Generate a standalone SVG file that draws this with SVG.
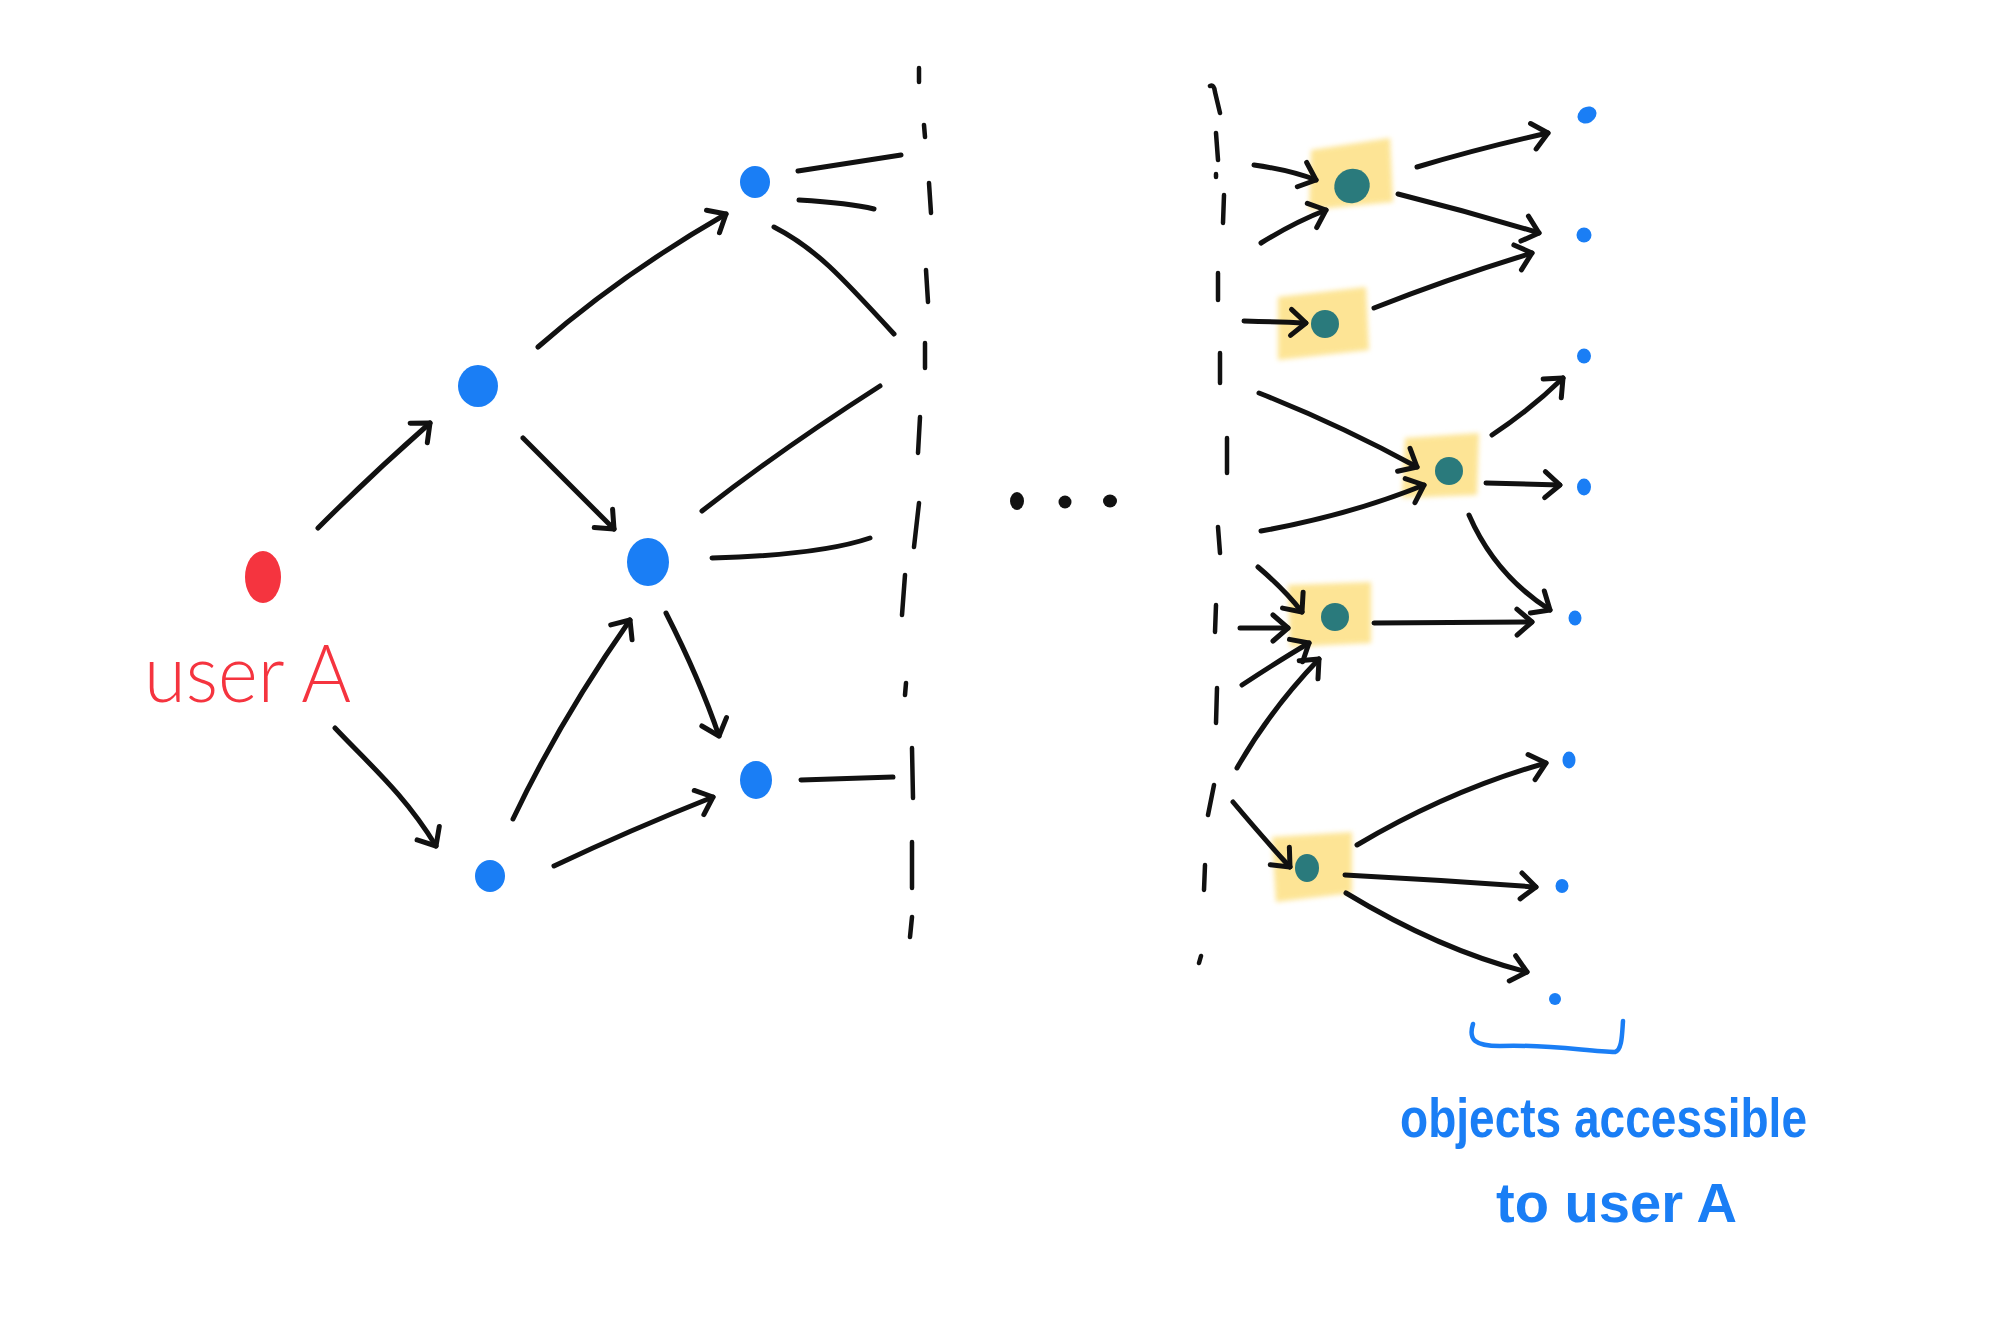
<svg xmlns="http://www.w3.org/2000/svg" width="2000" height="1344" viewBox="0 0 2000 1344">
<defs>
<style>
.edge{fill:none;stroke:#111;stroke-width:5;stroke-linecap:round;stroke-linejoin:round}
.arr{marker-end:url(#ah)}
.dash{fill:none;stroke:#111;stroke-width:4.5;stroke-linecap:round}
.blue{fill:#1A7EF5}
.red{fill:#F5343F}
.teal{fill:#2A7A7C}
.hl{fill:#FDE28A;opacity:0.9;filter:url(#soft)}
.lbl{font-family:"Liberation Sans",Arial,sans-serif}
.thin{font-family:Lato,Roboto,"Open Sans","Liberation Sans",sans-serif;font-weight:300}
</style>
<marker id="ah" markerUnits="userSpaceOnUse" markerWidth="40" markerHeight="40" viewBox="-20 -20 40 40" refX="0" refY="0" orient="auto">
<path d="M-15,-13 L0,0 L-15,13" fill="none" stroke="#111" stroke-width="5" stroke-linecap="round" stroke-linejoin="round"/>
</marker>
<filter id="soft" x="-20%" y="-20%" width="140%" height="140%"><feGaussianBlur stdDeviation="2.5"/></filter>
</defs>
<rect width="2000" height="1344" fill="#fff"/>

<g id="dashed-left">
<path class="dash" d="M919,68 L919,82 M924,125 L925,137 M929,183 L931,213 M926,270 L928,302 M925,343 L925,368 M920,417 L918,453 M919,503 L914,547 M905,575 L902,615 M906,683 L905,695 M912,748 L913,798 M912,842 L912,888 M912,917 L910,937"/>
</g>
<g id="dashed-right">
<path class="dash" d="M1210,86 Q1214,84 1215,92 L1220,113 M1216,133 L1218,160 M1216,174 L1216,177 M1224,195 L1223,223 M1218,273 L1218,300 M1220,353 L1220,383 M1227,438 L1227,473 M1218,527 L1220,553 M1216,605 L1215,632 M1217,688 L1216,723 M1214,785 L1208,815 M1205,865 L1204,890 M1201,956 L1199,963"/>
</g>
<g id="ellipsis">
<ellipse cx="1017" cy="501" rx="7" ry="9" fill="#111"/>
<ellipse cx="1065" cy="502" rx="6.5" ry="6.5" fill="#111"/>
<ellipse cx="1110" cy="501" rx="7" ry="6.5" fill="#111"/>
</g>

<g id="userA">
<ellipse class="red" cx="263" cy="577" rx="18" ry="26"/>
<text class="thin" x="144" y="702" font-size="80" fill="#F5343F" textLength="207" lengthAdjust="spacingAndGlyphs">user A</text>
</g>
<g id="n1"><ellipse class="blue" cx="755" cy="182" rx="15" ry="16"/></g>
<g id="n2"><ellipse class="blue" cx="478" cy="386" rx="20" ry="21"/></g>
<g id="n3"><ellipse class="blue" cx="648" cy="562" rx="21" ry="24"/></g>
<g id="n4"><ellipse class="blue" cx="756" cy="780" rx="16" ry="19"/></g>
<g id="n5"><ellipse class="blue" cx="490" cy="876" rx="15" ry="16"/></g>

<g id="box1"><polygon class="hl" points="1311,150 1390,138 1393,202 1309,210"/><ellipse class="teal" cx="1352" cy="186" rx="18" ry="17" transform="rotate(-30 1352 186)"/></g>
<g id="box2"><polygon class="hl" points="1278,297 1366,287 1369,350 1278,360"/><ellipse class="teal" cx="1325" cy="324" rx="14" ry="14"/></g>
<g id="box3"><polygon class="hl" points="1405,438 1479,433 1477,495 1402,498"/><ellipse class="teal" cx="1449" cy="471" rx="14" ry="14"/></g>
<g id="box4"><polygon class="hl" points="1288,585 1371,582 1371,643 1290,647"/><ellipse class="teal" cx="1335" cy="617" rx="14" ry="14"/></g>
<g id="box5"><polygon class="hl" points="1272,837 1352,832 1352,893 1276,902"/><ellipse class="teal" cx="1307" cy="868" rx="12" ry="14"/></g>

<g id="o1"><ellipse class="blue" cx="1587" cy="115" rx="10" ry="8" transform="rotate(-30 1587 115)"/></g>
<g id="o2"><ellipse class="blue" cx="1584" cy="235" rx="7.5" ry="7.5"/></g>
<g id="o3"><ellipse class="blue" cx="1584" cy="356" rx="7" ry="7.5"/></g>
<g id="o4"><ellipse class="blue" cx="1584" cy="487" rx="7" ry="8.5"/></g>
<g id="o5"><ellipse class="blue" cx="1575" cy="618" rx="6.5" ry="7.5"/></g>
<g id="o6"><ellipse class="blue" cx="1569" cy="760" rx="6.5" ry="8.5"/></g>
<g id="o7"><ellipse class="blue" cx="1562" cy="886" rx="6.5" ry="7"/></g>
<g id="o8"><ellipse class="blue" cx="1555" cy="999" rx="6" ry="6"/></g>

<g id="connectors">
<path class="edge arr" d="M318,528 Q372,474 430,423"/>
<path class="edge arr" d="M335,728 C370,765 405,795 436,846"/>
<path class="edge arr" d="M523,438 L614,529"/>
<path class="edge arr" d="M538,347 Q620,275 726,214"/>
<path class="edge arr" d="M513,819 Q560,720 630,620"/>
<path class="edge arr" d="M666,613 Q700,680 719,736"/>
<path class="edge arr" d="M554,866 Q630,830 713,797"/>
<path class="edge" d="M798,171 L901,155"/>
<path class="edge" d="M799,200 Q850,203 874,209"/>
<path class="edge" d="M774,227 C815,248 840,275 894,334"/>
<path class="edge" d="M702,511 Q780,450 880,386"/>
<path class="edge" d="M712,558 Q820,555 870,538"/>
<path class="edge" d="M801,780 L893,777"/>

<path class="edge arr" d="M1254,165 Q1290,170 1316,180"/>
<path class="edge arr" d="M1261,243 Q1295,222 1326,210"/>
<path class="edge arr" d="M1417,167 Q1480,148 1548,133"/>
<path class="edge arr" d="M1398,194 Q1470,212 1539,233"/>
<path class="edge arr" d="M1374,308 Q1450,278 1532,253"/>
<path class="edge arr" d="M1244,321 Q1280,322 1306,323"/>
<path class="edge arr" d="M1259,393 Q1340,425 1417,467"/>
<path class="edge arr" d="M1261,531 Q1350,515 1424,485"/>
<path class="edge arr" d="M1492,435 Q1530,410 1563,378"/>
<path class="edge arr" d="M1486,483 L1560,485"/>
<path class="edge arr" d="M1469,515 Q1495,575 1550,610"/>
<path class="edge arr" d="M1374,623 L1532,622"/>
<path class="edge arr" d="M1258,567 Q1285,590 1302,612"/>
<path class="edge arr" d="M1240,628 L1288,628"/>
<path class="edge arr" d="M1242,685 Q1280,660 1309,643"/>
<path class="edge arr" d="M1237,768 Q1270,710 1319,659"/>
<path class="edge arr" d="M1233,802 Q1265,840 1290,867"/>
<path class="edge arr" d="M1357,845 Q1450,790 1546,763"/>
<path class="edge arr" d="M1345,875 Q1440,880 1536,887"/>
<path class="edge arr" d="M1346,893 Q1440,950 1527,972"/>
</g>

<g id="accessible-label">
<path d="M1473,1024 C1468,1040 1475,1046 1500,1046 C1550,1044 1590,1052 1615,1052 C1622,1050 1622,1035 1623,1021" fill="none" stroke="#1A7EF5" stroke-width="4.5" stroke-linecap="round"/>
<text class="lbl" x="1400" y="1137" font-size="56" font-weight="bold" fill="#1A7EF5" textLength="407" lengthAdjust="spacingAndGlyphs">objects accessible</text>
<text class="lbl" x="1496" y="1222" font-size="56" font-weight="bold" fill="#1A7EF5" textLength="241" lengthAdjust="spacingAndGlyphs">to user A</text>
</g>
</svg>
